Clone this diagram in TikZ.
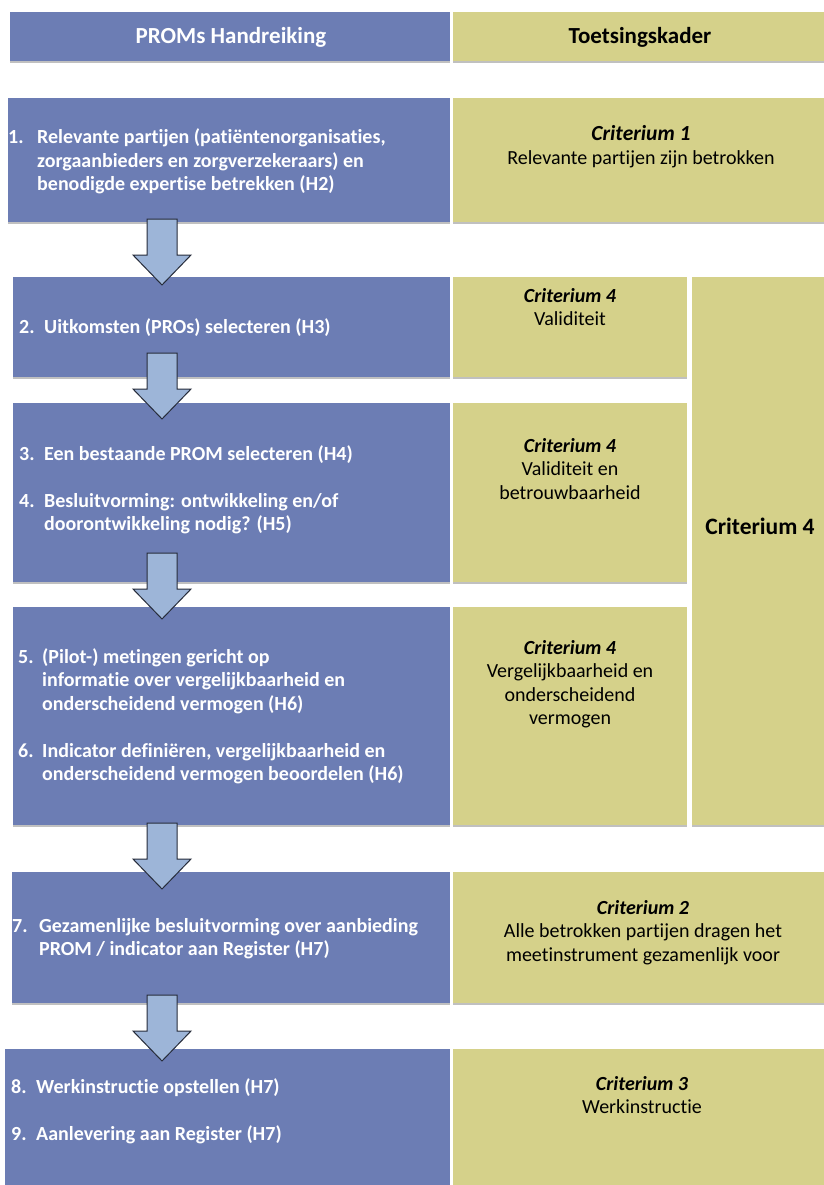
\documentclass[tikz,border=0pt]{standalone}
\usepackage{fontspec}
\setmainfont{Carlito}[Ligatures=CommonOff]
\usetikzlibrary{shadows}
\definecolor{promblue}{HTML}{6C7DB4}
\definecolor{promyellow}{HTML}{D5D18A}
\definecolor{arrowfill}{HTML}{9DB5D8}
\definecolor{arrowline}{HTML}{262C3A}
\newcommand{\flowarrowat}[1]{\draw[flowarrow] (#1) ++(-15,0) -- ++(30,0) -- ++(0,36) -- ++(14,0) -- ++(-29,30) -- ++(-29,-30) -- ++(14,0) -- cycle;}
\tikzset{
  box/.style={anchor=north west, inner sep=0pt, outer sep=0pt, draw=none,
    drop shadow={shadow xshift=0pt, shadow yshift=-2pt, opacity=0.35, fill=black!70}},
  bluebox/.style={box, fill=promblue},
  yellowbox/.style={box, fill=promyellow},
  lefttext/.style={anchor=base west, inner sep=0pt, text=white, font=\fontsize{20}{23.5}\selectfont\bfseries},
  righttext/.style={anchor=base, inner sep=0pt, text=black, font=\fontsize{20}{23.5}\selectfont},
  flowarrow/.style={fill=arrowfill, draw=arrowline, line width=1pt, line join=miter},
}
\begin{document}
\begin{tikzpicture}[x=1pt,y=-1pt]
\useasboundingbox[fill=white] (0,0) rectangle (823,1185);
% header
\node[bluebox, minimum width=440pt, minimum height=49pt] (hb) at (10,12) {};
\node[yellowbox, minimum width=375pt, minimum height=49pt] (hy) at (453,12) {};
\node[anchor=base, inner sep=0pt, text=white, font=\fontsize{23}{26}\selectfont\bfseries] (hbt) at (231,44) {PROMs Handreiking};
\node[anchor=base, inner sep=0pt, text=black, font=\fontsize{23}{26}\selectfont\bfseries] (hyt) at (640,44) {Toetsingskader};
% row 1
\node[bluebox, minimum width=442pt, minimum height=124pt] (b1) at (8,98) {};
\node[yellowbox, minimum width=375pt, minimum height=124pt] (y1) at (453,98) {};
% row 2
\node[bluebox, minimum width=437pt, minimum height=100pt] (b2) at (13,277) {};
\node[yellowbox, minimum width=234pt, minimum height=100pt] (y2) at (453,277) {};
% big criterium 4
\node[yellowbox, minimum width=136pt, minimum height=548pt] (big) at (692,277) {};
% row 3
\node[bluebox, minimum width=437pt, minimum height=179pt] (b3) at (13,403) {};
\node[yellowbox, minimum width=234pt, minimum height=179pt] (y3) at (453,403) {};
% row 4
\node[bluebox, minimum width=437pt, minimum height=218pt] (b4) at (13,607) {};
\node[yellowbox, minimum width=234pt, minimum height=218pt] (y4) at (453,607) {};
% row 5
\node[bluebox, minimum width=438pt, minimum height=131pt] (b5) at (12,872) {};
\node[yellowbox, minimum width=375pt, minimum height=131pt] (y5) at (453,872) {};
% row 6
\node[bluebox, minimum width=445pt, minimum height=150pt] (b6) at (5,1049) {};
\node[yellowbox, minimum width=375pt, minimum height=150pt] (y6) at (453,1049) {};

% left texts
\node[lefttext] (t1) at (8,144) {\begin{tabular}[t]{@{}p{29pt}@{}l@{}}1. & Relevante partijen (patiëntenorganisaties,\\ & zorgaanbieders en zorgverzekeraars) en\\ & benodigde expertise betrekken (H2)\end{tabular}};
\node[lefttext] (t2) at (19,333) {\begin{tabular}[t]{@{}p{25pt}@{}l@{}}2. & Uitkomsten (PROs) selecteren (H3)\end{tabular}};
\node[lefttext] (t3) at (19,460) {\begin{tabular}[t]{@{}p{25pt}@{}l@{}}3. & Een bestaande PROM selecteren (H4)\\ & \\ 4. & Besluitvorming: ontwikkeling en/of\\ & doorontwikkeling nodig? (H5)\end{tabular}};
\node[lefttext] (t4) at (18,663) {\begin{tabular}[t]{@{}p{24pt}@{}l@{}}5. & (Pilot-) metingen gericht op\\ & informatie over vergelijkbaarheid en\\ & onderscheidend vermogen (H6)\\ & \\ 6. & Indicator definiëren, vergelijkbaarheid en\\ & onderscheidend vermogen beoordelen (H6)\end{tabular}};
\node[lefttext] (t5) at (12,932) {\begin{tabular}[t]{@{}p{27pt}@{}l@{}}7. & Gezamenlijke besluitvorming over aanbieding\\ & PROM / indicator aan Register (H7)\end{tabular}};
\node[lefttext] (t6) at (11,1093) {\begin{tabular}[t]{@{}p{25pt}@{}l@{}}8. & Werkinstructie opstellen (H7)\\ & \\ 9. & Aanlevering aan Register (H7)\end{tabular}};

% right texts
\node[righttext] (r1) at (641,141) {\begin{tabular}[t]{@{}c@{}}{\fontsize{21.5}{23.5}\selectfont\bfseries\itshape Criterium 1}\\ Relevante partijen zijn betrokken\end{tabular}};
\node[righttext] (r2) at (570,302) {\begin{tabular}[t]{@{}c@{}}{\bfseries\itshape Criterium 4}\\ Validiteit\end{tabular}};
\node[righttext] (r3) at (570,452) {\begin{tabular}[t]{@{}c@{}}{\bfseries\itshape Criterium 4}\\ Validiteit en\\ betrouwbaarheid\end{tabular}};
\node[righttext] (r4) at (570,654) {\begin{tabular}[t]{@{}c@{}}{\bfseries\itshape Criterium 4}\\ Vergelijkbaarheid en\\ onderscheidend\\ vermogen\end{tabular}};
\node[anchor=base, inner sep=0pt, text=black, font=\fontsize{23.5}{26}\selectfont\bfseries] (bigt) at (760,534) {Criterium 4};
\node[righttext] (r5) at (643,914) {\begin{tabular}[t]{@{}c@{}}{\bfseries\itshape Criterium 2}\\ Alle betrokken partijen dragen het\\ meetinstrument gezamenlijk voor\end{tabular}};
\node[righttext] (r6) at (642,1090) {\begin{tabular}[t]{@{}c@{}}{\bfseries\itshape Criterium 3}\\ Werkinstructie\end{tabular}};

% arrows
\coordinate (a1) at (162,219);
\coordinate (a2) at (162,353);
\coordinate (a3) at (162,553);
\coordinate (a4) at (162,823);
\coordinate (a5) at (162,995);
\flowarrowat{a1}
\flowarrowat{a2}
\flowarrowat{a3}
\flowarrowat{a4}
\flowarrowat{a5}
\end{tikzpicture}
\end{document}
